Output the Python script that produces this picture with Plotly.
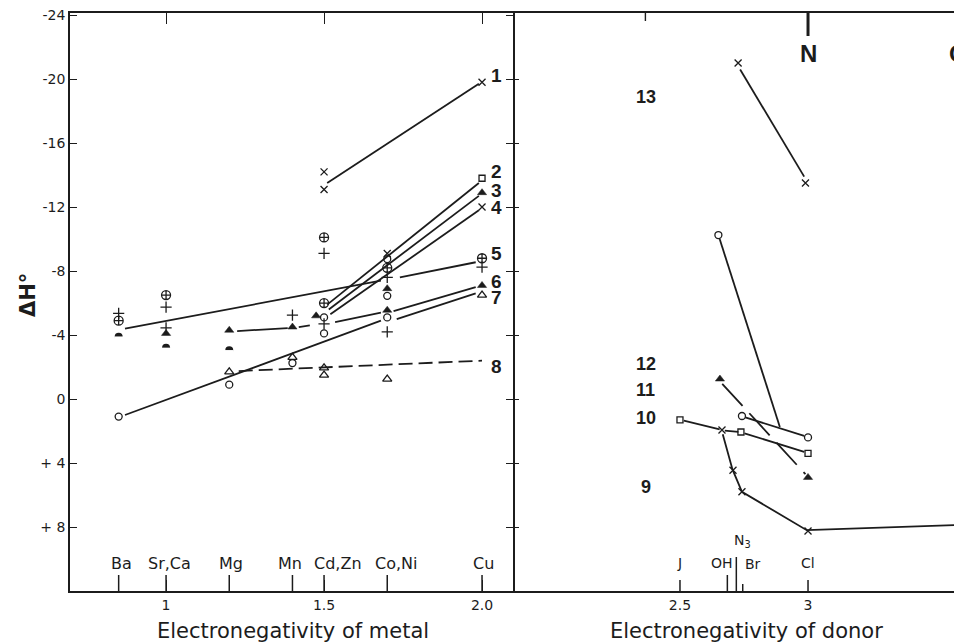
import plotly.graph_objects as go

# ---------------- data ----------------
metal_cats = ["Ba", "Sr,Ca", "Mg", "Mn", "Cd,Zn", "Co,Ni", "Cu"]
metal_en = [0.85, 1.0, 1.2, 1.4, 1.5, 1.7, 2.0]

donor_cats = ["J", "OH", "N<sub>3</sub>", "Br", "Cl"]
donor_en = [2.5, 2.685, 2.72, 2.745, 3.0]

y_ticks = [-24, -20, -16, -12, -8, -4, 0, 4, 8]
y_ticktext = ["-24", "-20", "-16", "-12", "-8", "-4", "0", "+ 4", "+ 8"]
metal_ticks = [1.0, 1.5, 2.0]
metal_ticktext = ["1", "1.5", "2.0"]
donor_ticks = [2.5, 3.0]
donor_ticktext = ["2.5", "3"]
donor_top_ticks = [2.365, 3.0]

# left panel: single measured values (x = electronegativity of metal, y = dH)
x_sym_x = [1.5, 1.5, 2.0, 1.7, 2.0]
x_sym_y = [-14.2, -13.1, -19.8, -9.1, -12.0]
circ_x = [0.85, 1.2, 1.4, 1.5, 1.5, 1.7, 1.7, 1.7]
circ_y = [1.1, -0.9, -2.25, -5.1, -4.1, -8.75, -6.45, -5.1]
sq_x = [2.0]
sq_y = [-13.8]
tri_f_x = [1.0, 1.2, 1.4, 1.475, 1.7, 1.7, 2.0, 2.0]
tri_f_y = [-4.1, -4.3, -4.5, -5.2, -6.9, -5.55, -12.9, -7.1]
tri_o_x = [1.2, 1.4, 1.5, 1.5, 1.7, 2.0]
tri_o_y = [-1.7, -2.6, -1.95, -1.5, -1.25, -6.5]
ocross_x = [0.85, 1.0, 1.5, 1.5, 1.7, 2.0]
ocross_y = [-4.9, -6.5, -10.1, -6.0, -8.2, -8.8]
plus_x = [0.85, 1.0, 1.0, 1.4, 1.5, 1.5, 1.7, 1.7, 2.0]
plus_y = [-5.35, -5.75, -4.45, -5.25, -9.1, -4.7, -7.6, -4.2, -8.25]
dome_x = [0.85, 1.0, 1.2]
dome_y = [-3.9, -3.2, -3.05]

# left panel: correlation lines 1-8
line1_x = [1.51, 1.99]
line1_y = [-13.5, -19.7]
line2_x = [1.51, 1.99]
line2_y = [-5.9, -13.5]
line3_x = [1.515, 1.99]
line3_y = [-5.6, -12.7]
line4_x = [1.52, 1.99]
line4_y = [-5.3, -11.8]
line5_x = [0.87, 1.68, None, 1.74, 1.98]
line5_y = [-4.4, -7.4, None, -7.6, -8.55]
line6_x = [1.225, 1.385, None, 1.42, 1.455, None, 1.535, 1.68, None, 1.72, 1.98]
line6_y = [-4.25, -4.43, None, -4.5, -4.6, None, -4.8, -5.4, None, -5.5, -7.0]
line7_x = [0.87, 1.68, None, 1.73, 1.98]
line7_y = [1.0, -4.9, None, -5.0, -6.6]
line8_x = [1.23, 2.0]
line8_y = [-1.75, -2.4]
left_labels = ["1", "2", "3", "4", "5", "6", "7", "8"]
left_label_y = [-20.25, -14.25, -13.05, -12.0, -9.1, -7.4, -6.4, -2.05]

# right panel (x = electronegativity of donor)
rx_x = [2.727, 2.99, 2.664, 2.707, 2.742, 3.0]
rx_y = [-21.0, -13.5, 1.94, 4.45, 5.8, 8.25]
rcirc_x = [2.65, 2.742, 3.0]
rcirc_y = [-10.25, 1.06, 2.4]
rsq_x = [2.5, 2.738, 3.0]
rsq_y = [1.3, 2.06, 3.4]
rtri_x = [2.656, 3.0]
rtri_y = [-1.25, 4.9]

line13_x = [2.735, 2.985]
line13_y = [-20.6, -13.9]
line12_x = [2.655, 2.89]
line12_y = [-10.0, 1.75]
linec_x = [2.755, 2.985]
linec_y = [1.15, 2.3]
line11_x = [2.665, 2.99]
line11_y = [-0.95, 4.7]
line10_x = [2.515, 2.655, None, 2.675, 2.728, None, 2.752, 2.985]
line10_y = [1.35, 1.9, None, 1.98, 2.05, None, 2.15, 3.3]
line9_x = [2.667, 2.705, 2.742, 2.995, 3.62]
line9_y = [2.2, 4.4, 5.8, 8.2, 7.85]
right_labels = ["13", "12", "11", "10", "9"]
right_label_y = [-18.9, -2.2, -0.55, 1.2, 5.5]

# ---------------- figure ----------------
INK = "#1c1c1c"
FONT = "DejaVu Sans"
NUMFONT = "Liberation Sans"
Y_RANGE = [12.0, -24.13]
W, H = 954, 643

fig = go.Figure()


def add_line(xs, ys, xa="x", ya="y", dash="solid", width=1.8):
    fig.add_trace(go.Scatter(x=xs, y=ys, mode="lines", xaxis=xa, yaxis=ya,
                             line=dict(color=INK, width=width, dash=dash),
                             connectgaps=False, hoverinfo="skip", showlegend=False))


def add_marks(xs, ys, symbol, size, xa="x", ya="y", color=INK, lw=1.3):
    fig.add_trace(go.Scatter(x=xs, y=ys, mode="markers", xaxis=xa, yaxis=ya,
                             marker=dict(symbol=symbol, size=size, color=color,
                                         line=dict(color=color, width=lw)),
                             cliponaxis=False, hoverinfo="skip", showlegend=False))


# left lines
for lx, ly in [(line1_x, line1_y), (line2_x, line2_y), (line3_x, line3_y),
               (line4_x, line4_y), (line5_x, line5_y), (line6_x, line6_y),
               (line7_x, line7_y)]:
    add_line(lx, ly)
add_line(line8_x, line8_y, dash="14px,6px")

# left markers
add_marks(dome_x, dome_y, "circle", 8, lw=0)
add_marks(dome_x, [v + 0.27 for v in dome_y], "square", 9, color="white", lw=0)
add_marks(x_sym_x, x_sym_y, "x-thin-open", 7)
add_marks(circ_x, circ_y, "circle-open", 7)
add_marks(sq_x, sq_y, "square-open", 6)
add_marks(tri_f_x, tri_f_y, "triangle-up", 8, lw=0.5)
add_marks(tri_o_x, tri_o_y, "triangle-up-open", 8)
add_marks(ocross_x, ocross_y, "circle-cross-open", 9)
add_marks(plus_x, plus_y, "cross-thin-open", 8)

# right lines
for lx, ly in [(line13_x, line13_y), (line12_x, line12_y), (linec_x, linec_y),
               (line10_x, line10_y), (line9_x, line9_y)]:
    add_line(lx, ly, xa="x2", ya="y2")
add_line(line11_x, line11_y, xa="x2", ya="y2", dash="30px,10px")

add_marks(rx_x, rx_y, "x-thin-open", 7, xa="x2", ya="y2")
add_marks(rcirc_x, rcirc_y, "circle-open", 7, xa="x2", ya="y2")
add_marks(rsq_x, rsq_y, "square-open", 6, xa="x2", ya="y2")
add_marks(rtri_x, rtri_y, "triangle-up", 8, xa="x2", ya="y2", lw=0.5)

# ---------------- axes ----------------
L0, LR, R1 = 70 / W, 513 / W, 1.0
YB, YT = (H - 591) / H, (H - 13) / H
common = dict(showgrid=False, zeroline=False, linecolor=INK, linewidth=1.6,
              tickcolor=INK, tickwidth=1.4, automargin=False,
              tickfont=dict(family=FONT, size=14, color=INK))

fig.update_layout(
    width=W, height=H, margin=dict(l=0, r=0, t=0, b=0),
    paper_bgcolor="white", plot_bgcolor="white", showlegend=False,
    xaxis=dict(domain=[L0, LR], range=[0.696, 2.098], showline=True,
               mirror="allticks", ticks="inside", ticklen=11,
               tickvals=metal_ticks, ticktext=metal_ticktext, anchor="y", **common),
    yaxis=dict(domain=[YB, YT], range=Y_RANGE, showline=True, mirror="allticks",
               ticks="inside", ticklen=7, tickvals=y_ticks, ticktext=y_ticktext,
               anchor="x", **common),
    xaxis2=dict(domain=[LR, R1], range=[1.848, 3.570], showline=True, mirror=True,
                ticks="", tickvals=donor_ticks, ticktext=donor_ticktext,
                anchor="y2", **common),
    yaxis2=dict(domain=[YB, YT], range=Y_RANGE, showline=False, mirror=False,
                ticks="inside", ticklen=6, tickvals=y_ticks[1:], showticklabels=False,
                anchor="x2", **common),
)

shapes = []
# metal category ticks
for xv in metal_en:
    shapes.append(dict(type="line", xref="x", yref="y domain", x0=xv, x1=xv,
                       y0=0, y1=16 / 578, line=dict(color=INK, width=1.5)))
# donor category ticks (different lengths)
donor_tick_len = [11, 16, 34, 7, 11]
for xv, ln in zip(donor_en, donor_tick_len):
    shapes.append(dict(type="line", xref="x2", yref="y2 domain", x0=xv, x1=xv,
                       y0=0, y1=ln / 578, line=dict(color=INK, width=1.5)))
# top ticks of right panel
for xv, ln, w in zip(donor_top_ticks, [8, 23], [1.4, 3]):
    shapes.append(dict(type="line", xref="x2", yref="y2 domain", x0=xv, x1=xv,
                       y0=1, y1=1 - ln / 578, line=dict(color=INK, width=w)))
fig.update_layout(shapes=shapes)

CAT_Y = (H - 563) / H
ann = []
label_shift = {"Ba": 3, "Sr,Ca": 3, "Mg": 2, "Mn": -2, "Cd,Zn": 14, "Co,Ni": 9, "Cu": 1}
for name, xv in zip(metal_cats, metal_en):
    ann.append(dict(x=xv, y=CAT_Y, xref="x", yref="paper", text=name, showarrow=False,
                    xshift=label_shift[name], xanchor="center", yanchor="middle",
                    font=dict(family=FONT, size=16, color=INK)))
donor_shift = {"J": 0, "OH": -5, "N<sub>3</sub>": 6, "Br": 10, "Cl": 0}
donor_yoff = {"J": 0, "OH": 0, "N<sub>3</sub>": 22, "Br": -1, "Cl": 0}
for name, xv in zip(donor_cats, donor_en):
    ann.append(dict(x=xv, y=CAT_Y, xref="x2", yref="paper", text=name, showarrow=False,
                    xshift=donor_shift[name], yshift=donor_yoff[name],
                    xanchor="center", yanchor="middle",
                    font=dict(family=FONT, size=14, color=INK)))
for t, yv in zip(left_labels, left_label_y):
    ann.append(dict(x=2.046, y=yv, xref="x", yref="y", text="<b>" + t + "</b>",
                    showarrow=False, xanchor="center", yanchor="middle", height=14,
                    font=dict(family=NUMFONT, size=19, color=INK)))
for t, yv in zip(right_labels, right_label_y):
    ann.append(dict(x=2.367, y=yv, xref="x2", yref="y2", text="<b>" + t + "</b>",
                    showarrow=False, xanchor="center", yanchor="middle", height=14,
                    font=dict(family=NUMFONT, size=18, color=INK)))
ann.append(dict(x=3.0, y=-21.6, xref="x2", yref="y2", text="<b>N</b>", showarrow=False,
                xanchor="center", font=dict(family=NUMFONT, size=24, color=INK)))
ann.append(dict(x=947 / W, y=-21.6, xref="paper", yref="y2", text="<b>O</b>",
                showarrow=False, xanchor="left",
                font=dict(family=NUMFONT, size=24, color=INK)))
ann.append(dict(x=293 / W, y=(H - 631) / H, xref="paper", yref="paper",
                text="Electronegativity of metal", showarrow=False,
                xanchor="center", yanchor="middle",
                font=dict(family=FONT, size=21, color=INK)))
ann.append(dict(x=746 / W, y=(H - 631) / H, xref="paper", yref="paper",
                text="Electronegativity of donor", showarrow=False,
                xanchor="center", yanchor="middle",
                font=dict(family=FONT, size=21, color=INK)))
ann.append(dict(x=28 / W, y=(H - 295) / H, xref="paper", yref="paper",
                text="<b>ΔH°</b>", textangle=-90, showarrow=False,
                xanchor="center", yanchor="middle",
                font=dict(family=FONT, size=21, color=INK)))
fig.update_layout(annotations=ann)

fig.write_html("out.html", config={"displayModeBar": False},
               post_script="document.body.style.margin='0';document.body.style.overflow='hidden';")
